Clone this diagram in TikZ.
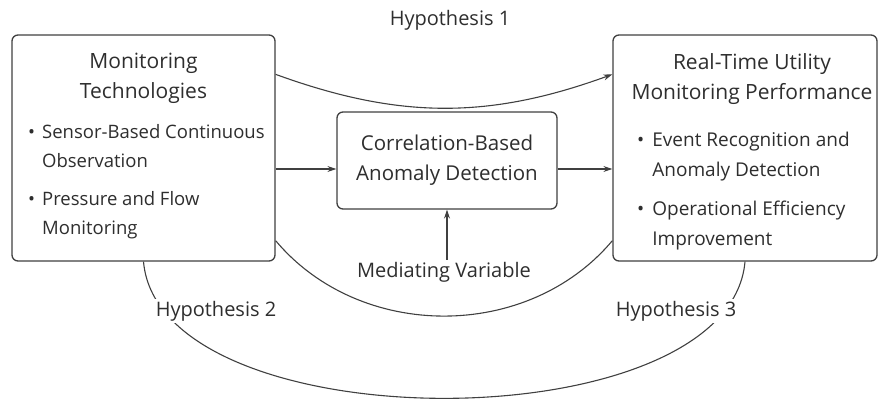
\documentclass[tikz,border=0pt]{standalone}
\usepackage{fontspec}
\setmainfont{Open Sans}
\usetikzlibrary{arrows.meta,calc}
\definecolor{ink}{HTML}{2E2E2E}
\definecolor{edge}{HTML}{404040}
\tikzset{
  box/.style={draw=edge, line width=1.3pt, rounded corners=6pt, fill=white, inner sep=0pt},
  ttl/.style={text=ink, align=center, font=\fontsize{21}{30}\selectfont, inner sep=0pt},
  lst/.style={text=ink, align=left, font=\fontsize{18.5}{29}\selectfont, inner sep=0pt},
  lbl/.style={text=ink, font=\fontsize{20}{24}\selectfont, inner sep=2pt},
  conn/.style={draw=edge, line width=1.1pt},
  arr/.style={conn, -{Stealth[length=9pt,width=6pt]}},
}
\begin{document}
\begin{tikzpicture}[x=1pt,y=-1pt]
\useasboundingbox (0,0) rectangle (880,400);
% boxes
\node[box, minimum width=263pt, minimum height=226pt] (L) at (143.5,148) {};
\node[box, minimum width=264pt, minimum height=226pt] (R) at (745,148) {};
\node[box, minimum width=220pt, minimum height=97pt] (M) at (447,160.5) {};
% texts left
\node[ttl] (Lt) at (143.5,78) {Monitoring\\Technologies};
\node[lst, anchor=north west] (Lb) at (28,118) {\begin{tabular}{@{}l@{\hspace{7pt}}l@{}}
\textbullet & Sensor-Based Continuous\\
 & Observation\\[9pt]
\textbullet & Pressure and Flow\\
 & Monitoring
\end{tabular}};
% texts right
\node[ttl] (Rt) at (752,79) {Real-Time Utility\\Monitoring Performance};
\node[lst, anchor=north west, font=\fontsize{19}{30}\selectfont] (Rb) at (637,125) {\begin{tabular}{@{}l@{\hspace{8pt}}l@{}}
\textbullet & Event Recognition and\\
 & Anomaly Detection\\[9pt]
\textbullet & Operational Efficiency\\
 & Improvement
\end{tabular}};
% middle
\node[ttl, font=\fontsize{20.5}{30}\selectfont] (Mt) at (447,160) {Correlation-Based\\Anomaly Detection};
\node[lbl] (MV) at (444,272) {Mediating Variable};
% hypothesis labels
\node[lbl] (H1) at (450,20) {Hypothesis 1};
% connectors
\coordinate (ha) at (0,169);
\draw[arr] (L.east |- ha) -- (M.west |- ha);
\draw[arr] (M.east |- ha) -- (R.west |- ha);
\draw[arr] (MV.north -| M.south) -- (M.south);
\draw[arr] ($(L.north east)+(0,40)$) to[out=-20, in=200] ($(R.north west)+(0,40)$);
\draw[conn] ($(L.south east)+(0,-21)$) to[out=-50, in=-130] ($(R.south west)+(0,-21)$);
\draw[conn] (L.south) to[out=-85, in=-95, looseness=0.78] (R.south);
\node[lbl, fill=white] (H2) at (216,311) {Hypothesis 2};
\node[lbl, fill=white] (H3) at (676,311) {Hypothesis 3};
\end{tikzpicture}
\end{document}
